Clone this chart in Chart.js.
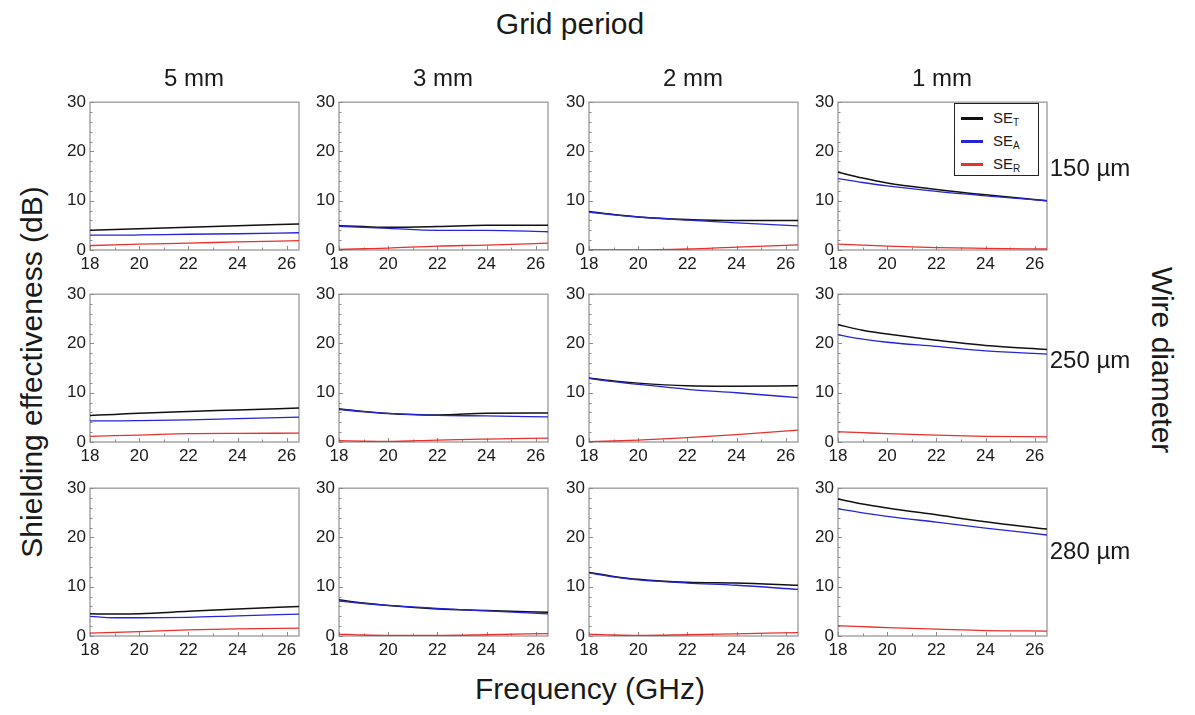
<!DOCTYPE html>
<html>
<head>
<meta charset="utf-8">
<script src="https://cdn.jsdelivr.net/npm/chart.js@4/dist/chart.umd.min.js"></script>
<style>
  body { margin: 0; background: #fff; font-family: "Liberation Sans", Arial, sans-serif; color: #1a1a1a; }
  #wrap { position: relative; width: 1195px; height: 715px; overflow: hidden; }
  .lbl { position: absolute; white-space: nowrap; transform: translate(-50%, -50%); }
  .big { font-size: 30px; }
  .mid { font-size: 24px; }
  .panel { position: absolute; width: 260px; height: 190px; }
  #legend { position: absolute; left: 954px; top: 103px; width: 83px; height: 71px; border: 1.5px solid #222; background: #fff; font-size: 15px; }
  #legend .row { position: absolute; left: 6px; height: 20px; display: flex; align-items: center; }
  #legend .sw { width: 22px; height: 3px; margin-right: 10px; }
  #legend sub { font-size: 10px; vertical-align: -3px; }
</style>
</head>
<body>
<div id="wrap">
  <div class="lbl big" style="left:570px; top:24px;">Grid period</div>
  <div class="lbl big" style="left:590px; top:689px;">Frequency (GHz)</div>
  <div class="lbl big" style="left:32px; top:372px; transform: translate(-50%, -50%) rotate(-90deg);">Shielding effectiveness (dB)</div>
  <div class="lbl big" style="left:1162px; top:360px; transform: translate(-50%, -50%) rotate(90deg);">Wire diameter</div>
  <div id="legend">
    <div class="row" style="top:4px;"><span class="sw" style="background:#111;"></span><span>SE<sub>T</sub></span></div>
    <div class="row" style="top:27px;"><span class="sw" style="background:#2424d8;"></span><span>SE<sub>A</sub></span></div>
    <div class="row" style="top:50px;"><span class="sw" style="background:#e8302c;"></span><span>SE<sub>R</sub></span></div>
  </div>
</div>
<script>
  const periods = ['5 mm', '3 mm', '2 mm', '1 mm'];
  const diameters = ['150 µm', '250 µm', '280 µm'];
  const freqs = [18, 19, 20, 22, 24, 26.5];
  const xTickMarks = [18, 19, 20, 21, 22, 23, 24, 25, 26];
  const yTickMarks = [0, 2, 4, 6, 8, 10, 12, 14, 16, 18, 20, 22, 24, 26, 28, 30];

  // one row per grid period (5, 3, 2, 1 mm)
  const seT150 = [
    [4.0, 4.15, 4.3, 4.6, 4.9, 5.3],
    [4.9, 4.75, 4.6, 4.75, 5.0, 5.0],
    [7.8, 7.2, 6.7, 6.2, 6.0, 6.0],
    [15.8, 14.6, 13.6, 12.3, 11.2, 10.0],
  ];
  const seA150 = [
    [3.0, 3.0, 3.05, 3.2, 3.3, 3.5],
    [4.8, 4.6, 4.4, 4.0, 4.0, 3.7],
    [7.7, 7.15, 6.7, 6.05, 5.5, 4.9],
    [14.5, 13.7, 13.0, 11.9, 11.0, 10.0],
  ];
  const seR150 = [
    [0.9, 1.05, 1.2, 1.4, 1.65, 1.9],
    [0.1, 0.25, 0.4, 0.8, 1.0, 1.4],
    [0.0, 0.0, 0.0, 0.2, 0.6, 1.05],
    [1.2, 1.0, 0.8, 0.5, 0.35, 0.2],
  ];
  const seT250 = [
    [5.4, 5.6, 5.85, 6.2, 6.5, 6.9],
    [6.75, 6.2, 5.8, 5.5, 5.85, 5.9],
    [13.0, 12.4, 11.95, 11.4, 11.3, 11.4],
    [23.8, 22.7, 21.9, 20.65, 19.6, 18.8],
  ];
  const seA250 = [
    [4.3, 4.3, 4.35, 4.5, 4.75, 5.05],
    [6.6, 6.15, 5.8, 5.4, 5.3, 5.1],
    [12.9, 12.25, 11.7, 10.7, 10.0, 9.0],
    [21.75, 20.9, 20.25, 19.4, 18.5, 17.85],
  ];
  const seR250 = [
    [1.15, 1.3, 1.4, 1.7, 1.75, 1.8],
    [0.25, 0.15, 0.1, 0.4, 0.6, 0.8],
    [0.05, 0.2, 0.4, 0.9, 1.5, 2.4],
    [2.1, 1.9, 1.7, 1.4, 1.15, 1.05],
  ];
  const seT280 = [
    [4.5, 4.45, 4.5, 5.0, 5.5, 6.0],
    [7.35, 6.7, 6.2, 5.5, 5.2, 4.8],
    [12.9, 12.1, 11.5, 10.9, 10.75, 10.3],
    [27.8, 26.8, 26.0, 24.6, 23.2, 21.7],
  ];
  const seA280 = [
    [4.0, 3.7, 3.7, 3.8, 4.1, 4.45],
    [7.1, 6.6, 6.2, 5.6, 5.1, 4.5],
    [12.8, 12.0, 11.4, 10.75, 10.3, 9.45],
    [25.8, 25.0, 24.3, 23.1, 21.9, 20.5],
  ];
  const seR280 = [
    [0.6, 0.75, 0.9, 1.25, 1.45, 1.6],
    [0.4, 0.2, 0.1, 0.1, 0.25, 0.5],
    [0.4, 0.2, 0.1, 0.25, 0.45, 0.7],
    [2.1, 1.9, 1.7, 1.4, 1.1, 1.0],
  ];

  const rowsT = [seT150, seT250, seT280];
  const rowsA = [seA150, seA250, seA280];
  const rowsR = [seR150, seR250, seR280];

  const plotLeft = [90, 339, 589, 838];
  const plotTop = [96, 288, 482];
  const wrap = document.getElementById('wrap');

  const pts = (arr) => freqs.map((f, i) => ({ x: f, y: arr[i] }));

  // grey box round the plot area, with small inward ticks
  const frameTicks = {
    id: 'frameTicks',
    beforeDatasetsDraw(chart) {
      const { ctx, chartArea: a, scales } = chart;
      ctx.save();
      ctx.strokeStyle = '#a6a6a6';
      ctx.lineWidth = 1.5;
      ctx.strokeRect(a.left, a.top, a.right - a.left, a.bottom - a.top);
      ctx.strokeStyle = '#8a8a8a';
      ctx.lineWidth = 1;
      ctx.beginPath();
      xTickMarks.forEach((v) => {
        const px = Math.round(scales.x.getPixelForValue(v)) + 0.5;
        const len = v % 2 === 0 ? 4 : 2.5;
        ctx.moveTo(px, a.bottom);
        ctx.lineTo(px, a.bottom - len);
      });
      yTickMarks.forEach((v) => {
        const py = Math.round(scales.y.getPixelForValue(v)) + 0.5;
        const len = v % 10 === 0 ? 4 : 2.5;
        ctx.moveTo(a.left, py);
        ctx.lineTo(a.left + len, py);
      });
      ctx.stroke();
      ctx.restore();
    },
  };

  diameters.forEach((dia, r) => {
    periods.forEach((per, c) => {
      if (r === 0) {
        const h = document.createElement('div');
        h.className = 'lbl mid';
        h.style.left = plotLeft[c] + 104 + 'px';
        h.style.top = '78px';
        h.textContent = per;
        wrap.appendChild(h);
      }
      const box = document.createElement('div');
      box.className = 'panel';
      box.style.left = plotLeft[c] - 40 + 'px';
      box.style.top = plotTop[r] - 8 + 'px';
      const cv = document.createElement('canvas');
      cv.width = 260;
      cv.height = 190;
      box.appendChild(cv);
      wrap.insertBefore(box, document.getElementById('legend'));

      new Chart(cv, {
        type: 'line',
        data: {
          datasets: [
            { label: 'SE_R', data: pts(rowsR[r][c]), borderColor: '#e8302c', borderWidth: 1.3 },
            { label: 'SE_A', data: pts(rowsA[r][c]), borderColor: '#2424d8', borderWidth: 1.3 },
            { label: 'SE_T', data: pts(rowsT[r][c]), borderColor: '#111111', borderWidth: 1.5 },
          ],
        },
        options: {
          responsive: false,
          animation: false,
          events: [],
          layout: { padding: { top: 8, right: 11, bottom: 0, left: 0 } },
          elements: { point: { radius: 0 }, line: { cubicInterpolationMode: 'monotone' } },
          plugins: { legend: { display: false }, tooltip: { enabled: false } },
          scales: {
            x: {
              type: 'linear',
              min: 18,
              max: 26.5,
              grid: { display: false, drawTicks: false },
              border: { display: false },
              ticks: { stepSize: 2, includeBounds: false, padding: 4, color: '#1a1a1a', font: { family: 'Liberation Sans', size: 17 } },
              afterFit: (s) => { s.height = 28; },
            },
            y: {
              min: 0,
              max: 30,
              grid: { display: false, drawTicks: false },
              border: { display: false },
              ticks: { stepSize: 10, includeBounds: false, padding: 4, color: '#1a1a1a', font: { family: 'Liberation Sans', size: 17 } },
              afterFit: (s) => { s.width = 40; },
            },
          },
        },
        plugins: [frameTicks],
      });
    });
    const rl = document.createElement('div');
    rl.className = 'lbl mid';
    rl.style.left = '1090px';
    rl.style.top = plotTop[r] + [72, 72, 69][r] + 'px';
    rl.textContent = dia;
    wrap.appendChild(rl);
  });
</script>
</body>
</html>
